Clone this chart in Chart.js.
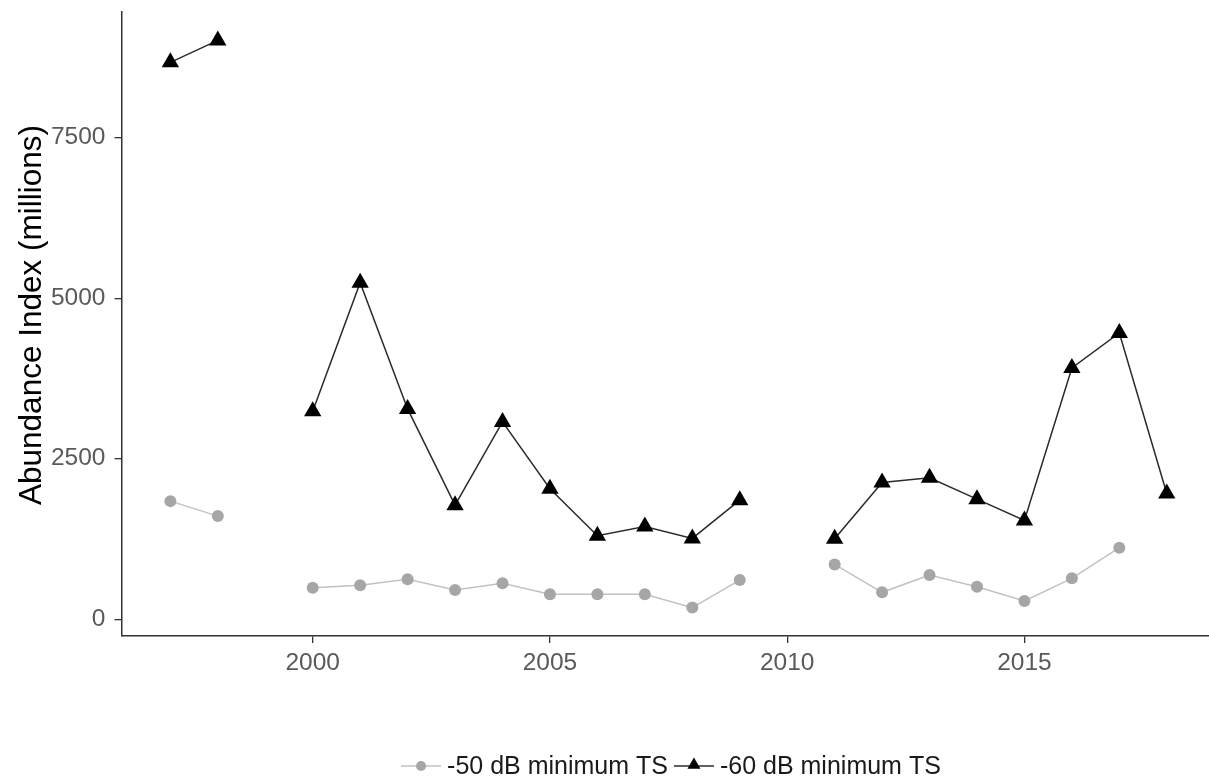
<!DOCTYPE html>
<html>
<head>
<meta charset="utf-8">
<script src="https://cdn.jsdelivr.net/npm/chart.js@4.4.1/dist/chart.umd.min.js"></script>
<style>
html,body{margin:0;padding:0;background:#ffffff;}
#wrap{width:1209px;height:780px;position:relative;}
</style>
</head>
<body>
<div id="wrap"><canvas id="c" width="1209" height="780"></canvas></div>
<script>
// ---- data ----
const years = [1997,1998,1999,2000,2001,2002,2003,2004,2005,2006,2007,2008,2009,2010,2011,2012,2013,2014,2015,2016,2017,2018];
const minus50dB = [1840,1607,null,493,529,622,456,560,389,389,389,182,611,null,855,420,689,508,285,638,1115,null];
const minus60dB = [8672,9014,null,3240,5240,3276,1777,3074,2032,1301,1446,1260,1855,null,1255,2130,2203,1871,1539,3914,4458,1959];
const seriesLabels = ['-50 dB minimum TS','-60 dB minimum TS'];
const yTickValues = [0,2500,5000,7500];
const xTickValues = [2000,2005,2010,2015];
const yTitle = 'Abundance Index (millions)';

const FONT = "'Liberation Sans', Arial, sans-serif";
const GRAY_PT = '#a6a6a6', GRAY_LN = '#c2c2c2', BLACK_PT = '#000000', BLACK_LN = '#2b2b2b';
const TICK_COLOR = '#5a5a5a';

function toPoints(arr){ return years.map((x,i)=>({x:x, y:arr[i]})); }

function drawTri(ctx, x, y, r){
  ctx.beginPath();
  ctx.moveTo(x, y - r);
  ctx.lineTo(x + r*Math.sin(Math.PI/3), y + r/2);
  ctx.lineTo(x - r*Math.sin(Math.PI/3), y + r/2);
  ctx.closePath();
  ctx.fill();
}

const decorPlugin = {
  id: 'ggDecor',
  afterDraw(chart){
    const ctx = chart.ctx;
    const xs = chart.scales.x;
    const ys = chart.scales.y;
    ctx.save();
    // y-axis title
    ctx.save();
    ctx.translate(32, (ys.top + ys.bottom)/2 - 9);
    ctx.rotate(-Math.PI/2);
    ctx.font = '31.5px ' + FONT;
    ctx.fillStyle = '#000000';
    ctx.textAlign = 'center';
    ctx.textBaseline = 'middle';
    ctx.fillText(yTitle, 0, 0);
    ctx.restore();

    // legend
    ctx.font = '25px ' + FONT;
    const keyW = 40, gapText = 6, gapItem = 6;
    const w0 = ctx.measureText(seriesLabels[0]).width;
    const w1 = ctx.measureText(seriesLabels[1]).width;
    const total = keyW + gapText + w0 + gapItem + keyW + gapText + w1;
    const cx = xs.getPixelForValue(2007.55);
    const y = 766;
    let x = cx - total/2;
    ctx.strokeStyle = GRAY_LN; ctx.lineWidth = 1.5;
    ctx.beginPath(); ctx.moveTo(x, y); ctx.lineTo(x+keyW, y); ctx.stroke();
    ctx.fillStyle = GRAY_PT;
    ctx.beginPath(); ctx.arc(x+keyW/2, y, 5, 0, Math.PI*2); ctx.fill();
    x += keyW + gapText;
    ctx.fillStyle = '#1a1a1a'; ctx.textBaseline = 'middle'; ctx.textAlign = 'left';
    ctx.fillText(seriesLabels[0], x, y + 1);
    x += w0 + gapItem;
    ctx.strokeStyle = BLACK_LN; ctx.lineWidth = 1.5;
    ctx.beginPath(); ctx.moveTo(x, y); ctx.lineTo(x+keyW, y); ctx.stroke();
    ctx.fillStyle = BLACK_PT;
    drawTri(ctx, x+keyW/2, y-1, 7.5);
    x += keyW + gapText;
    ctx.fillStyle = '#1a1a1a';
    ctx.fillText(seriesLabels[1], x, y + 1);
    ctx.restore();
  }
};

new Chart(document.getElementById('c'), {
  type: 'line',
  data: {
    datasets: [
      {
        label: seriesLabels[0],
        data: toPoints(minus50dB),
        borderColor: GRAY_LN,
        borderWidth: 1.5,
        pointStyle: 'circle',
        pointRadius: 6,
        pointBackgroundColor: GRAY_PT,
        pointBorderColor: GRAY_PT,
        pointBorderWidth: 0,
        spanGaps: false,
        tension: 0
      },
      {
        label: seriesLabels[1],
        data: toPoints(minus60dB),
        borderColor: BLACK_LN,
        borderWidth: 1.5,
        pointStyle: 'triangle',
        pointRadius: 10,
        pointBackgroundColor: BLACK_PT,
        pointBorderColor: BLACK_PT,
        pointBorderWidth: 0,
        spanGaps: false,
        tension: 0
      }
    ]
  },
  options: {
    responsive: false,
    devicePixelRatio: 1,
    animation: false,
    events: [],
    layout: { autoPadding: false, padding: { top: 12, left: 0, right: 0, bottom: 0 } },
    plugins: { legend: { display: false }, tooltip: { enabled: false } },
    scales: {
      x: {
        type: 'linear',
        min: 1995.97,
        max: 2018.89,
        afterBuildTicks: s => { s.ticks = xTickValues.map(v => ({ value: v })); },
        afterFit: s => { s.height = 144; s.paddingLeft = 0; s.paddingRight = 0; },
        grid: { display: true, drawOnChartArea: false, drawTicks: true, tickLength: 7, color: '#333333', lineWidth: 1.3 },
        border: { display: true, color: '#333333', width: 1.5 },
        ticks: { font: { family: FONT, size: 24.5 }, color: TICK_COLOR, padding: 6, autoSkip: false, maxRotation: 0, callback: v => String(v) }
      },
      y: {
        type: 'linear',
        min: -260,
        max: 9456,
        afterBuildTicks: s => { s.ticks = yTickValues.map(v => ({ value: v })); },
        afterFit: s => { s.width = 121.5; s.paddingTop = 0; s.paddingBottom = 0; },
        grid: { display: true, drawOnChartArea: false, drawTicks: true, tickLength: 7, color: '#333333', lineWidth: 1.3 },
        border: { display: true, color: '#333333', width: 1.5 },
        ticks: { font: { family: FONT, size: 24.5 }, color: TICK_COLOR, padding: 9, autoSkip: false, callback: v => String(v) },
        title: { display: false }
      }
    }
  },
  plugins: [decorPlugin]
});
</script>
</body>
</html>
